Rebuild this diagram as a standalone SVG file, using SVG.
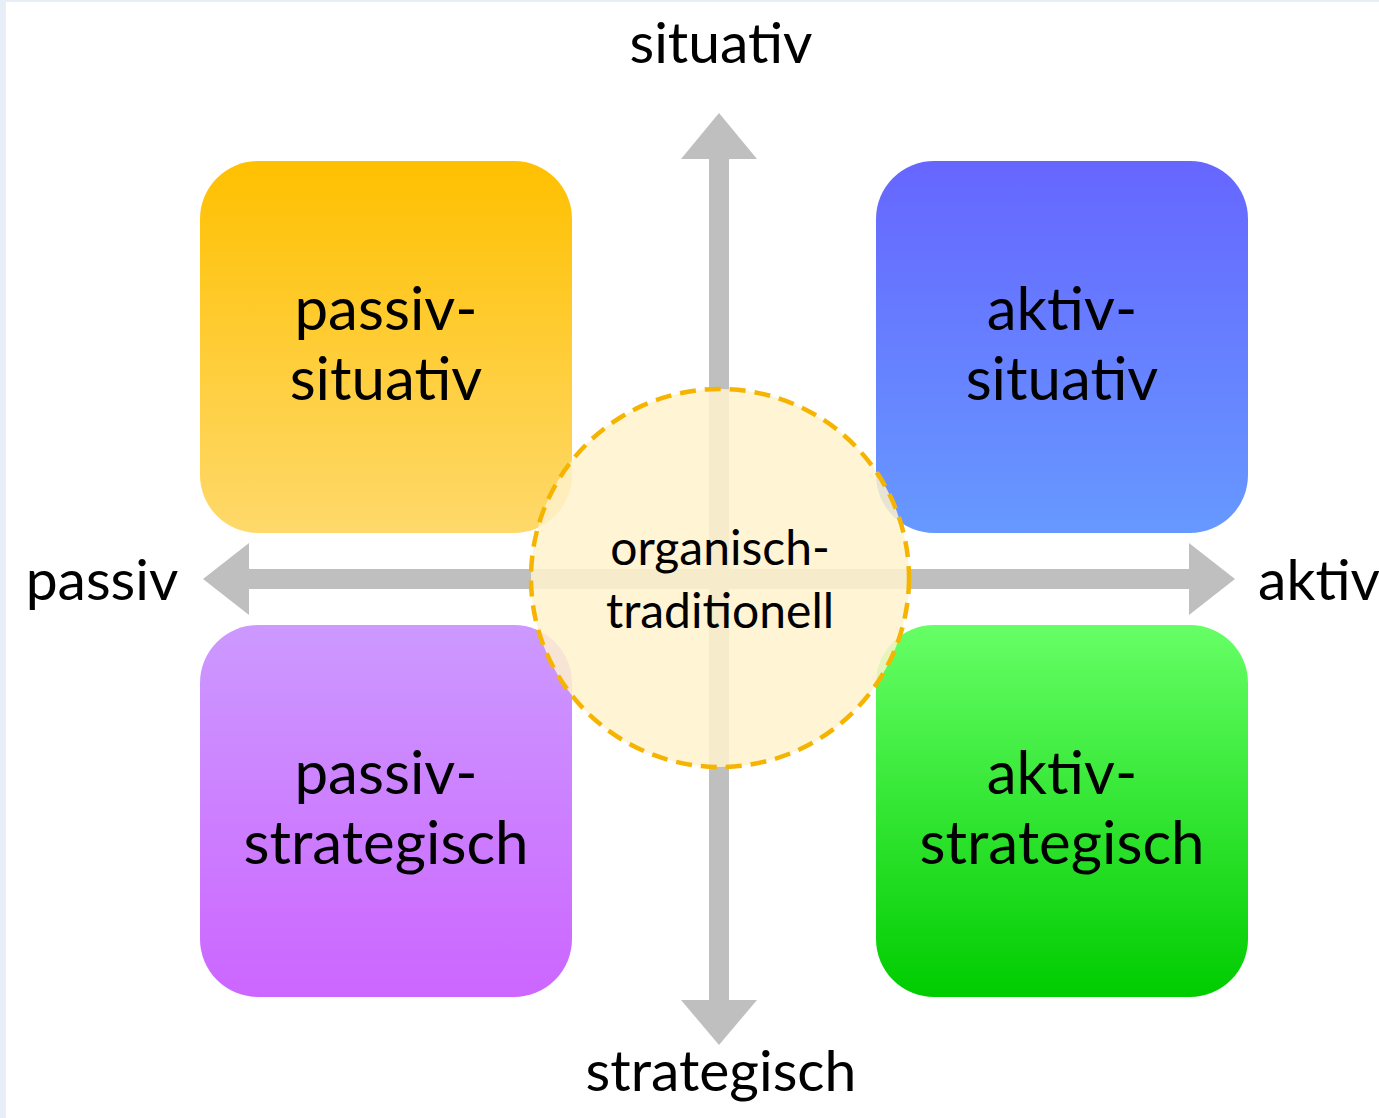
<svg xmlns="http://www.w3.org/2000/svg" width="1379" height="1118" viewBox="0 0 1379 1118">
  <style>
    .lbl { font-family: Lato, "Open Sans", "Liberation Sans", sans-serif; fill: #000; text-anchor: middle; }
    .axis { font-size: 57px; }
    .box { font-size: 60px; }
    .mid { font-size: 48px; }
    .arrow { fill: #bfbfbf; }
  </style>
  <defs>
    <linearGradient id="gY" x1="0" y1="0" x2="0" y2="1">
      <stop offset="0" stop-color="#ffc000"/>
      <stop offset="1" stop-color="#fed96b"/>
    </linearGradient>
    <linearGradient id="gB" x1="0" y1="0" x2="0" y2="1">
      <stop offset="0" stop-color="#6666ff"/>
      <stop offset="1" stop-color="#6699ff"/>
    </linearGradient>
    <linearGradient id="gP" x1="0" y1="0" x2="0" y2="1">
      <stop offset="0" stop-color="#cc99ff"/>
      <stop offset="1" stop-color="#cc66ff"/>
    </linearGradient>
    <linearGradient id="gG" x1="0" y1="0" x2="0" y2="1">
      <stop offset="0" stop-color="#66ff66"/>
      <stop offset="1" stop-color="#00cc00"/>
    </linearGradient>
  </defs>
  <rect x="0" y="0" width="1379" height="1118" fill="#e8eef8"/>
  <rect x="6" y="2" width="1373" height="1116" fill="#ffffff"/>

  <g id="connectors">
    <path class="arrow" d="M719 113 L757 159 L729 159 L729 1000 L757 1000 L719 1045 L681 1000 L709 1000 L709 159 L681 159 Z"/>
    <path class="arrow" d="M203 579 L249 543 L249 569 L1189 569 L1189 543 L1235 579 L1189 615 L1189 589 L249 589 L249 615 Z"/>
  </g>

  <g id="node-passiv-situativ">
    <rect x="200" y="161" width="372" height="372" rx="58" fill="url(#gY)"/>
    <text class="lbl box" x="386" y="330">passiv-</text>
    <text class="lbl box" x="386" y="400">situativ</text>
  </g>
  <g id="node-aktiv-situativ">
    <rect x="876" y="161" width="372" height="372" rx="58" fill="url(#gB)"/>
    <text class="lbl box" x="1062" y="330">aktiv-</text>
    <text class="lbl box" x="1062" y="400">situativ</text>
  </g>
  <g id="node-passiv-strategisch">
    <rect x="200" y="625" width="372" height="372" rx="58" fill="url(#gP)"/>
    <text class="lbl box" x="386" y="794">passiv-</text>
    <text class="lbl box" x="386" y="864">strategisch</text>
  </g>
  <g id="node-aktiv-strategisch">
    <rect x="876" y="625" width="372" height="372" rx="58" fill="url(#gG)"/>
    <text class="lbl box" x="1062" y="794">aktiv-</text>
    <text class="lbl box" x="1062" y="864">strategisch</text>
  </g>

  <g id="node-organisch-traditionell">
    <circle cx="720" cy="578" r="189" fill="#fff2cc" fill-opacity="0.85" stroke="#f5b400" stroke-width="4.5" stroke-dasharray="16 9"/>
    <text class="lbl mid" x="720" y="565">organisch-</text>
    <text class="lbl mid" x="720" y="628">traditionell</text>
  </g>

  <g id="axis-labels">
    <text class="lbl axis" x="721" y="63">situativ</text>
    <text class="lbl axis" x="721" y="1091">strategisch</text>
    <text class="lbl axis" x="102" y="600">passiv</text>
    <text class="lbl axis" x="1319" y="600">aktiv</text>
  </g>
</svg>
